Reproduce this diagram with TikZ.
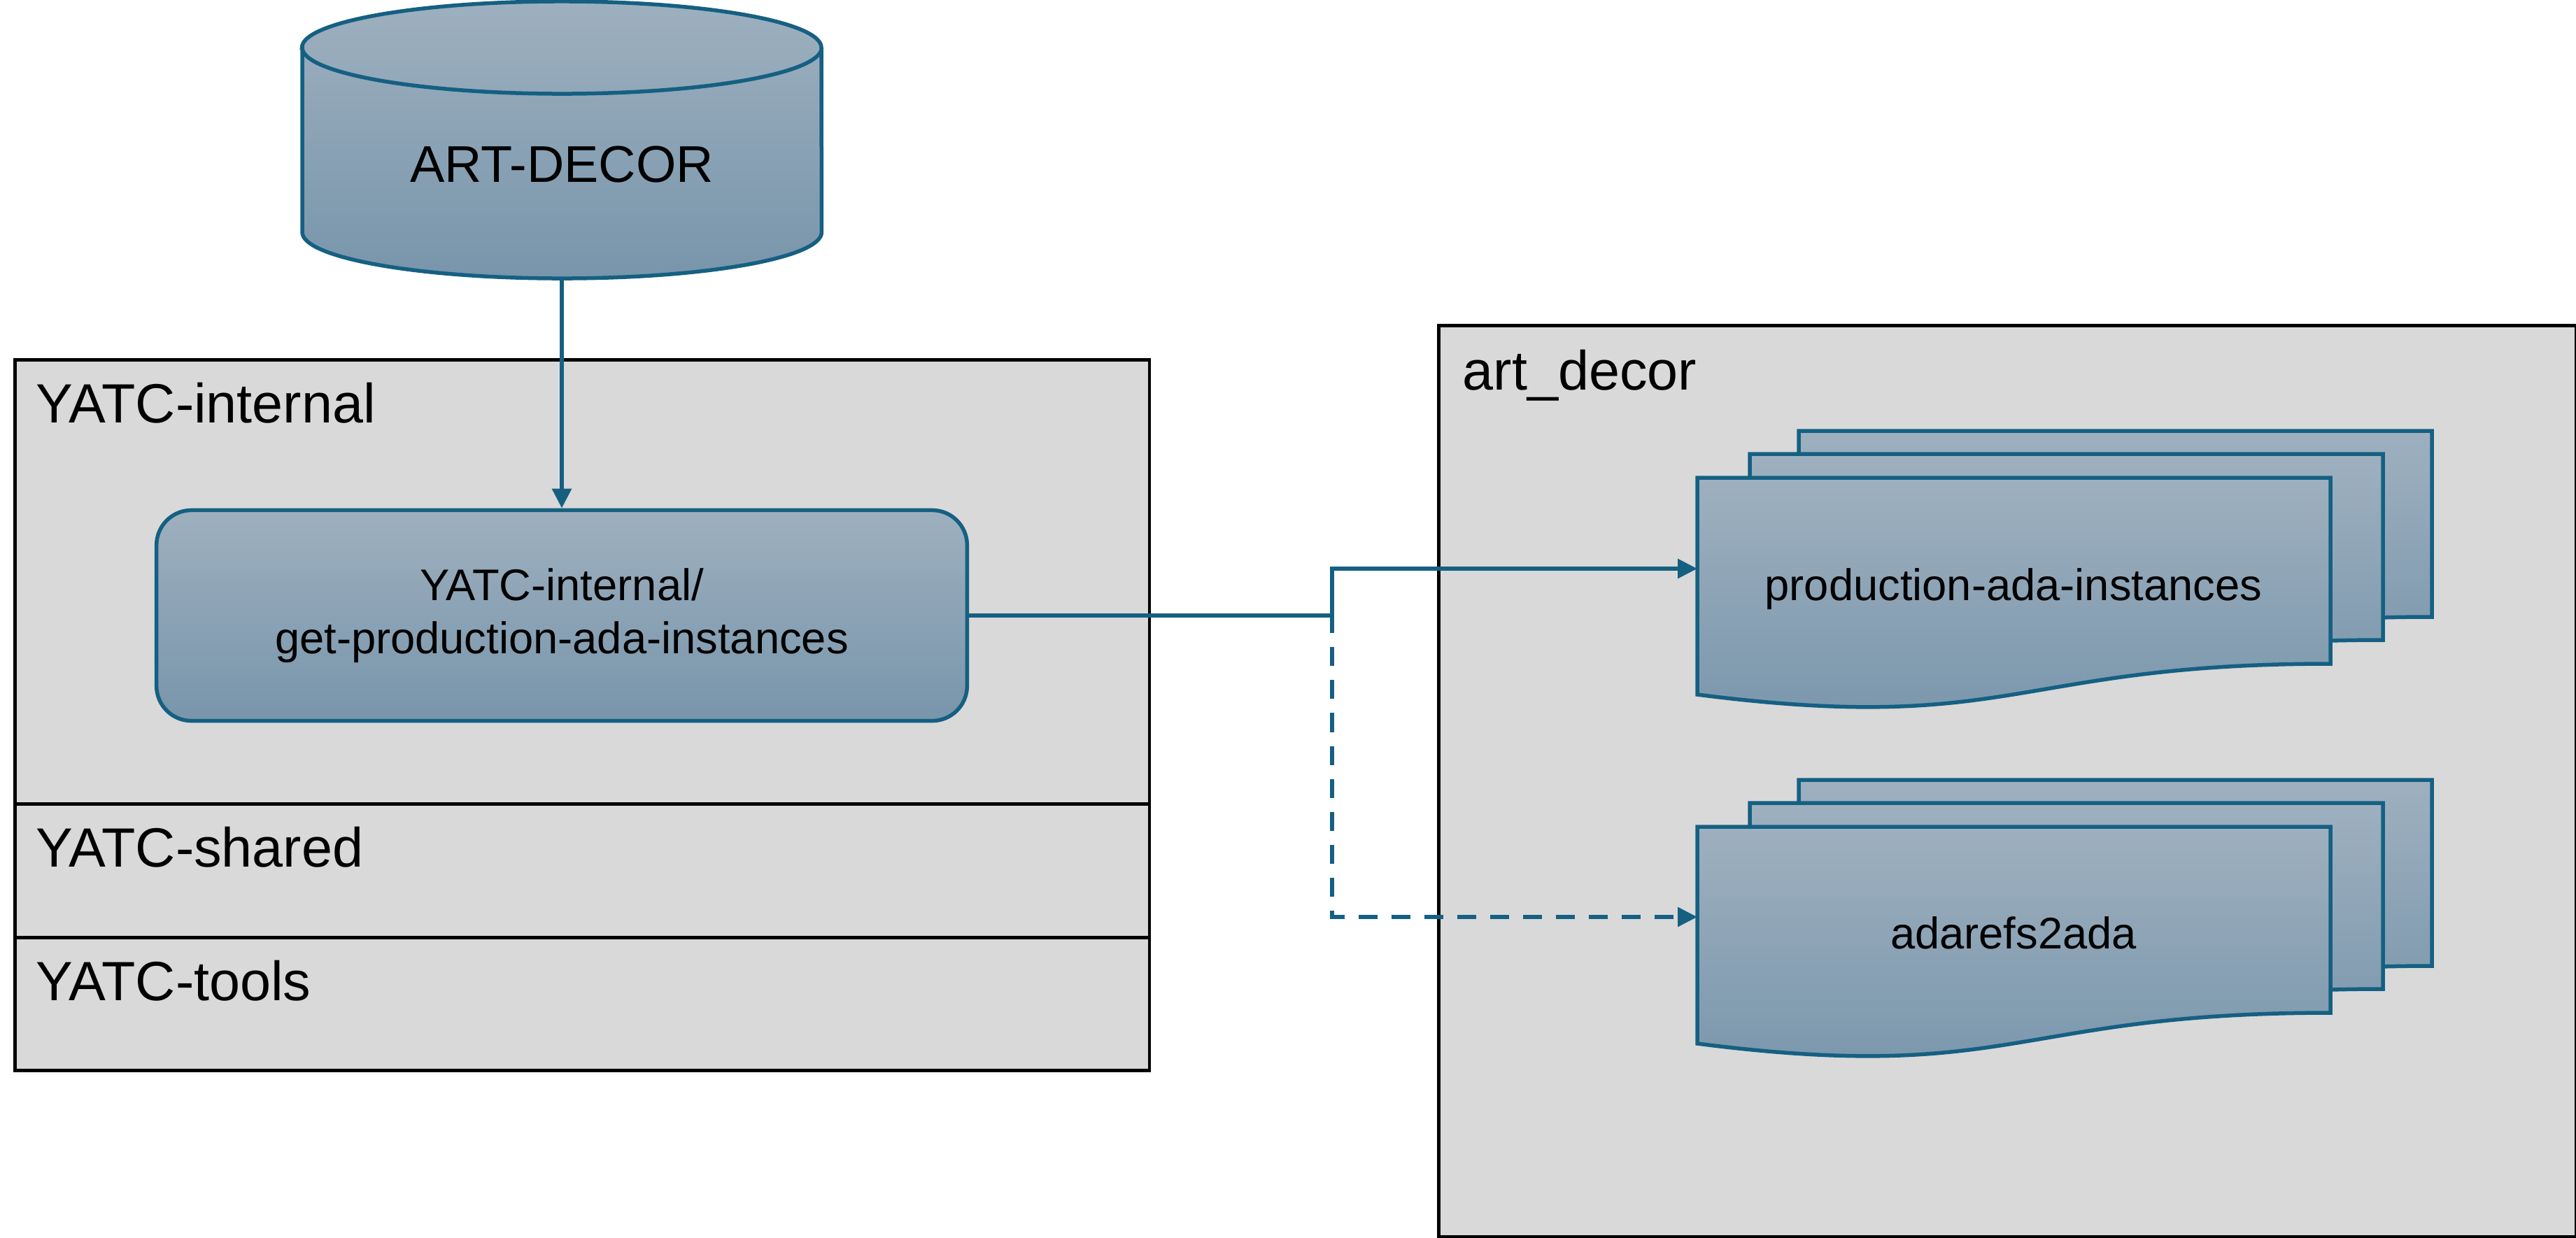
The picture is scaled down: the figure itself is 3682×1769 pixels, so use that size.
\documentclass[tikz,border=0pt]{standalone}
\usepackage{fontspec}
\setmainfont{Liberation Sans}
\usepackage{xcolor}
\usetikzlibrary{arrows.meta, shapes.geometric, positioning}

\definecolor{flowblue}{RGB}{21,96,130}
\definecolor{shadetop}{RGB}{158,176,191}
\definecolor{shadebot}{RGB}{120,149,171}
\definecolor{panelgray}{RGB}{217,217,217}

\begin{document}
\begin{tikzpicture}[
x=0.01cm, y=-0.01cm,
>={Triangle[length=0.28cm, width=0.27cm]},
panel/.style={rectangle, draw=black, line width=0.045cm, fill=panelgray, anchor=north west, inner sep=0},
biglabel/.style={anchor=base west, inner sep=0, font=\fontsize{22.5}{27}\selectfont},
shapetext/.style={font=\fontsize{18}{21.8}\selectfont, align=center},
filled/.style={draw=flowblue, line width=0.055cm, top color=shadetop, bottom color=shadebot},
arrow/.style={->, draw=flowblue, line width=0.06cm},
dasharrow/.style={arrow, dash pattern=on 0.27cm off 0.2cm}
]
\useasboundingbox (0,0) rectangle (3682,1769);

% left side: the three layers
\node[panel, minimum width=16.21cm, minimum height=6.35cm] (internal) at (19,512) {};
\node[panel, minimum width=16.21cm, minimum height=1.91cm] (shared) at (19,1147) {};
\node[panel, minimum width=16.21cm, minimum height=1.90cm] (tools) at (19,1338) {};
\node[biglabel] (internallabel) at (51,604) {YATC-internal};
\node[biglabel] (sharedlabel) at (51,1239) {YATC-shared};
\node[biglabel] (toolslabel) at (51,1430) {YATC-tools};

% right side
\node[panel, minimum width=16.25cm, minimum height=13.02cm] (artdecor) at (2054,463) {};
\node[biglabel] (artlabel) at (2090,557) {art\_decor};

% database
\draw[filled] (432,68) -- (432,332) arc[start angle=180, end angle=360, x radius=3.71cm, y radius=0.66cm]
  -- (1174,68) arc[start angle=0, end angle=180, x radius=3.71cm, y radius=0.66cm] -- cycle;
\draw[draw=flowblue, line width=0.055cm] (432,68) arc[start angle=180, end angle=360, x radius=3.71cm, y radius=0.66cm];
\node[biglabel, anchor=base, font=\fontsize{21}{25}\selectfont] (dblabel) at (803,260) {ART-DECOR};
\coordinate (dbout) at (803,398);

\node[filled, rounded corners=0.5cm, minimum width=11.58cm, minimum height=3.01cm, shapetext] (query) at (803,880) {YATC-internal/\\get-production-ada-instances};

% document stacks
\foreach \dy in {0,499} {
  \foreach \dx/\ddy in {145/-67, 75/-34, 0/0} {
    \draw[filled] ({2426+\dx},{683+\dy+\ddy}) -- ({3331+\dx},{683+\dy+\ddy}) -- ({3331+\dx},{949+\dy+\ddy})
      .. controls ({2878.5+\dx},{949+\dy+\ddy}) and ({2878.5+\dx},{1051+\dy+\ddy}) .. ({2426+\dx},{993+\dy+\ddy}) -- cycle;
  }
}
\node[shapetext, anchor=base] (prod) at (2878,858) {production-ada-instances};
\node[shapetext, anchor=base] (refs) at (2878,1356) {adarefs2ada};

\coordinate (bend) at (1904,880);
\coordinate (prodin) at (2426,813);
\coordinate (refsin) at (2426,1311);

\draw[arrow] (dbout) -- (query.north);
\draw[dasharrow] (query.east) -- (query.east -| bend) |- (refsin);
\draw[arrow] (query.east) -- (query.east -| bend) |- (prodin);

\end{tikzpicture}
\end{document}
